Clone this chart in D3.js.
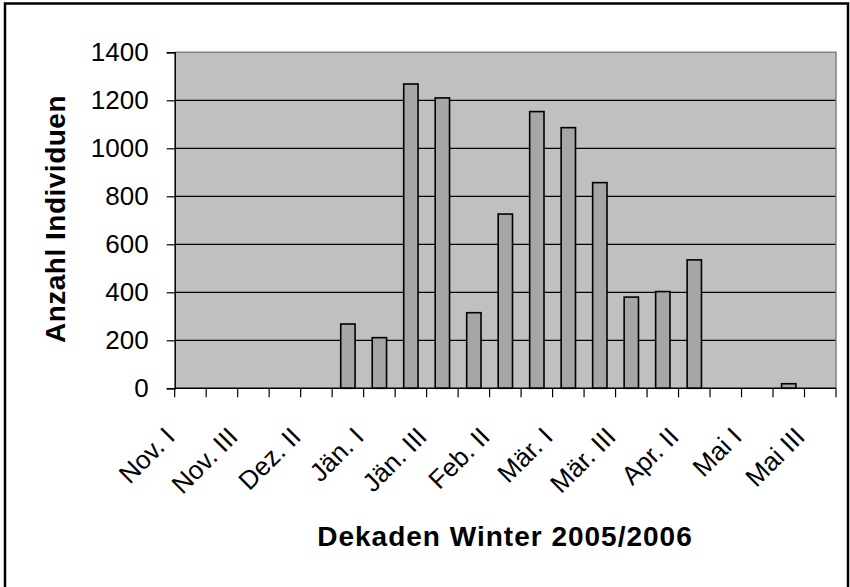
<!DOCTYPE html>
<html>
<head>
<meta charset="utf-8">
<script src="https://cdn.jsdelivr.net/npm/d3@7"></script>
<style>
  html, body { margin: 0; padding: 0; background: #fff; }
  svg { display: block; }
  text { font-family: "Liberation Sans", Arial, sans-serif; fill: #000; }
</style>
</head>
<body>
<svg id="chart" width="850" height="587"></svg>
<script>
const categories = ["Nov. I","Nov. II","Nov. III","Dez. I","Dez. II","Dez. III","Jän. I","Jän. II","Jän. III","Feb. I","Feb. II","Feb. III","Mär. I","Mär. II","Mär. III","Apr. I","Apr. II","Apr. III","Mai I","Mai II","Mai III"];
const values = [0,0,0,0,0,268,211,1268,1210,315,726,1153,1086,857,380,403,535,0,0,19,0];
const yTicks = [0,200,400,600,800,1000,1200,1400];
const shownLabels = ["Nov. I","Nov. III","Dez. II","Jän. I","Jän. III","Feb. II","Mär. I","Mär. III","Apr. II","Mai I","Mai III"];
const xTitle = "Dekaden Winter 2005/2006";
const yTitle = "Anzahl Individuen";

const svg = d3.select("#chart");
const L = 174.7, R = 836, T = 52.3, B = 388.3;

// outer frame
svg.append("rect").attr("x", 5).attr("y", 3.5).attr("width", 843).attr("height", 600)
  .attr("fill", "none").attr("stroke", "#000").attr("stroke-width", 2.5);

const x = d3.scaleBand().domain(categories).range([L, R]).paddingInner(0.545).paddingOuter(0.2725);
const y = d3.scaleLinear().domain([0, 1400]).range([B, T]);

// plot background
svg.append("rect").attr("x", L).attr("y", T).attr("width", R - L).attr("height", B - T)
  .attr("fill", "#c0c0c0");

// gridlines
svg.append("g").selectAll("line").data(yTicks.filter(v => v > 0 && v < 1400)).join("line")
  .attr("x1", L).attr("x2", R).attr("y1", d => y(d)).attr("y2", d => y(d))
  .attr("stroke", "#000").attr("stroke-width", 1.2);

// plot border top/right gray
svg.append("path").attr("d", `M${L},${T}H${R}V${B}`).attr("fill", "none")
  .attr("stroke", "#808080").attr("stroke-width", 1.5);

// bars
svg.append("g").selectAll("rect").data(categories.map((c, i) => ({c, v: values[i]})).filter(d => d.v > 0)).join("rect")
  .attr("x", d => x(d.c)).attr("width", x.bandwidth())
  .attr("y", d => y(d.v)).attr("height", d => y(0) - y(d.v))
  .attr("fill", "#a6a6a6").attr("stroke", "#000").attr("stroke-width", 1.6);

// y axis
const yAxis = svg.append("g").attr("transform", `translate(${L},0)`)
  .call(d3.axisLeft(y).tickValues(yTicks).tickSize(8).tickPadding(18).tickFormat(d3.format("d")));
yAxis.select(".domain").attr("stroke", "#000").attr("stroke-width", 1.5);
yAxis.selectAll(".tick line").attr("stroke", "#000").attr("stroke-width", 1.2);
yAxis.selectAll(".tick text").attr("font-size", 26).attr("font-family", "Liberation Sans, Arial, sans-serif").attr("fill", "#000");

// x axis line
svg.append("line").attr("x1", L).attr("x2", R).attr("y1", B).attr("y2", B)
  .attr("stroke", "#000").attr("stroke-width", 1.5);
// x ticks at category boundaries
const bounds = d3.range(categories.length + 1).map(i => L + i * x.step());
svg.append("g").selectAll("line").data(bounds).join("line")
  .attr("x1", d => d).attr("x2", d => d).attr("y1", B).attr("y2", B + 9)
  .attr("stroke", "#000").attr("stroke-width", 1.2);

// x labels
svg.append("g").selectAll("text").data(shownLabels).join("text")
  .attr("transform", d => `translate(${x(d) + x.bandwidth() / 2 - 14},${B + 50}) rotate(-45)`)
  .attr("text-anchor", "end").attr("font-size", 26).text(d => d);

// titles
svg.append("text").attr("x", 505).attr("y", 546)
  .attr("text-anchor", "middle").attr("font-size", 28).attr("font-weight", "bold")
  .attr("letter-spacing", 1).text(xTitle);
svg.append("text").attr("transform", `translate(65,219) rotate(-90)`)
  .attr("text-anchor", "middle").attr("font-size", 28).attr("font-weight", "bold")
  .attr("letter-spacing", 0.5).text(yTitle);
</script>
</body>
</html>
